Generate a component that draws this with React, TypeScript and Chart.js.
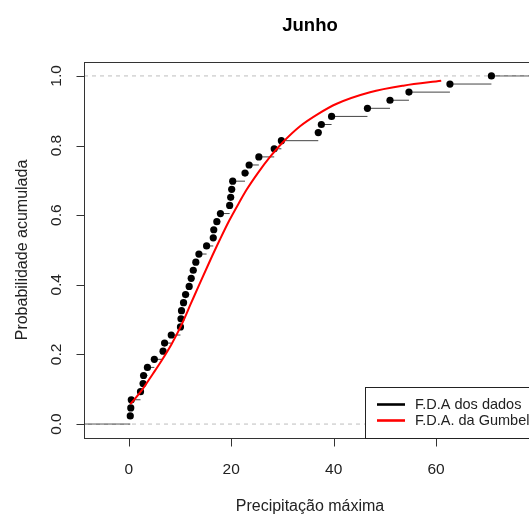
import { useEffect, useRef } from "react";
import { Chart, registerables } from "chart.js";

Chart.register(...registerables);

// Empirical CDF of the data (x = precipitation, y = cumulative probability)
const ecdfX = [
  0.3, 0.4, 0.5, 2.3, 2.8, 2.9, 3.65, 5.0, 6.7, 7.0,
  8.3, 10.1, 10.2, 10.3, 10.7, 11.1, 11.8, 12.2, 12.6, 13.1,
  13.7, 15.2, 16.5, 16.6, 17.2, 17.9, 19.7, 19.9, 20.1, 20.3,
  22.7, 23.5, 25.4, 28.4, 29.8, 37.0, 37.6, 39.6, 46.6, 51.0,
  54.7, 62.7, 70.8,
];
const ecdfY = [
  0.0233, 0.0465, 0.0698, 0.093, 0.1163, 0.1395, 0.1628, 0.186, 0.2093, 0.2326,
  0.2558, 0.2791, 0.3023, 0.3256, 0.3488, 0.3721, 0.3953, 0.4186, 0.4419, 0.4651,
  0.4884, 0.5116, 0.5349, 0.5581, 0.5814, 0.6047, 0.6279, 0.6512, 0.6744, 0.6977,
  0.7209, 0.7442, 0.7674, 0.7907, 0.814, 0.8372, 0.8605, 0.8837, 0.907, 0.9302,
  0.9535, 0.9767, 1.0,
];

// Fitted Gumbel CDF
const gumbelX = [0.3, 2.5, 4.7, 6.4, 8.3, 10.3, 12.1, 13.9, 15.8, 17.8, 19.6, 21.7, 23.0, 25.2, 27.5, 30.0, 33.5, 37.0, 40.6, 47.1, 53.6, 61.0];
const gumbelF = [0.057, 0.096, 0.144, 0.182, 0.228, 0.285, 0.345, 0.405, 0.467, 0.53, 0.584, 0.64, 0.673, 0.721, 0.766, 0.808, 0.856, 0.891, 0.92, 0.953, 0.972, 0.986];

const xTicks = [0, 20, 40, 60];
const xTickLabels = ["0", "20", "40", "60"];
const yTicks = [0, 0.2, 0.4, 0.6, 0.8, 1.0];
const yTickLabels = ["0.0", "0.2", "0.4", "0.6", "0.8", "1.0"];
const refLevels = [0, 1];
const xLimits = [-8.73, 79.5];
const yLimits = [-0.04, 1.04];

const titleText = "Junho";
const xTitle = "Precipitação máxima";
const yTitle = "Probabilidade acumulada";
const legendLabels = ["F.D.A dos dados", "F.D.A. da Gumbel"];
const legendColors = ["#000000", "#ff0000"];

const FONT = "'Liberation Sans', Arial, sans-serif";

const rPlugin = {
  id: "rstyle",
  afterDatasetsDraw(chart: any) {
    const { ctx, chartArea: a, scales } = chart;
    const xs = scales.x;
    const ys = scales.y;
    ctx.save();
    // box
    ctx.strokeStyle = "#333";
    ctx.lineWidth = 1;
    const L = Math.round(a.left) + 0.5;
    const T = Math.round(a.top) + 0.5;
    const R = Math.round(a.right) + 0.5;
    const B = Math.round(a.bottom) + 0.5;
    ctx.strokeRect(L, T, R - L, B - T);
    // ticks
    ctx.beginPath();
    xTicks.forEach((v) => {
      const px = Math.round(xs.getPixelForValue(v)) + 0.5;
      ctx.moveTo(px, B);
      ctx.lineTo(px, B + 8);
    });
    yTicks.forEach((v) => {
      const py = Math.round(ys.getPixelForValue(v)) + 0.5;
      ctx.moveTo(L, py);
      ctx.lineTo(L - 8, py);
    });
    ctx.stroke();

    // legend
    const lw = 171;
    const lh = 51;
    const lx = a.right - lw;
    const ly = a.bottom - lh;
    ctx.fillStyle = "#ffffff";
    ctx.fillRect(lx, ly, lw, lh);
    ctx.strokeStyle = "#222";
    ctx.lineWidth = 1;
    ctx.strokeRect(Math.round(lx) + 0.5, Math.round(ly) + 0.5, lw, lh);
    ctx.font = `14.5px ${FONT}`;
    ctx.textBaseline = "middle";
    ctx.textAlign = "left";
    legendLabels.forEach((lab, i) => {
      const ry = ly + 17.5 + i * 16;
      ctx.strokeStyle = legendColors[i];
      ctx.lineWidth = 2.6;
      ctx.beginPath();
      ctx.moveTo(lx + 12, ry);
      ctx.lineTo(lx + 40, ry);
      ctx.stroke();
      ctx.fillStyle = "#222";
      ctx.fillText(lab, lx + 50, ry + 0.5);
    });
    ctx.restore();
  },
  afterDraw(chart: any) {
    const { ctx, chartArea: a, scales } = chart;
    const xs = scales.x;
    const ys = scales.y;
    ctx.save();
    ctx.fillStyle = "#222";
    ctx.font = `15.5px ${FONT}`;
    ctx.textAlign = "center";
    ctx.textBaseline = "alphabetic";
    xTicks.forEach((v, i) => {
      ctx.fillText(xTickLabels[i], xs.getPixelForValue(v), a.bottom + 36);
    });
    yTicks.forEach((v, i) => {
      ctx.save();
      ctx.translate(a.left - 23.5, ys.getPixelForValue(v));
      ctx.rotate(-Math.PI / 2);
      ctx.fillText(yTickLabels[i], 0, 0);
      ctx.restore();
    });
    ctx.font = `16px ${FONT}`;
    ctx.fillText(xTitle, (a.left + a.right) / 2, a.bottom + 72.5);
    ctx.save();
    ctx.translate(27.3, (a.top + a.bottom) / 2);
    ctx.rotate(-Math.PI / 2);
    ctx.fillText(yTitle, 0, 0);
    ctx.restore();
    ctx.fillStyle = "#000";
    ctx.font = `bold 18.5px ${FONT}`;
    ctx.fillText(titleText, (a.left + a.right) / 2, 30.5);
    ctx.restore();
  },
};

export default function App() {
  const ref = useRef<HTMLCanvasElement>(null);
  useEffect(() => {
    const canvas = ref.current;
    if (!canvas) return;
    const n = ecdfX.length;
    const stepData: any[] = [];
    for (let i = 0; i < n - 1; i++) {
      stepData.push({ x: ecdfX[i], y: ecdfY[i] });
      stepData.push({ x: ecdfX[i + 1], y: ecdfY[i] });
      stepData.push({ x: ecdfX[i + 1], y: null });
    }
    const edgeData = [
      { x: xLimits[0], y: refLevels[0] },
      { x: ecdfX[0], y: refLevels[0] },
      { x: ecdfX[0], y: null },
      { x: ecdfX[n - 1], y: refLevels[1] },
      { x: xLimits[1], y: refLevels[1] },
    ];
    const refData = [
      { x: xLimits[0], y: refLevels[0] },
      { x: xLimits[1], y: refLevels[0] },
      { x: xLimits[1], y: null },
      { x: xLimits[0], y: refLevels[1] },
      { x: xLimits[1], y: refLevels[1] },
    ];
    const chart = new Chart(canvas, {
      type: "scatter",
      data: {
        datasets: [
          {
            label: legendLabels[1],
            data: gumbelX.map((x, i) => ({ x, y: gumbelF[i] })),
            showLine: true,
            borderColor: "#ff0000",
            borderWidth: 2,
            pointRadius: 0,
            cubicInterpolationMode: "monotone",
            order: 0,
          } as any,
          {
            label: "points",
            data: ecdfX.map((x, i) => ({ x, y: ecdfY[i] })),
            showLine: false,
            pointRadius: 3.6,
            pointBackgroundColor: "#000",
            pointBorderColor: "#000",
            pointBorderWidth: 0,
            order: 1,
          },
          {
            label: "ref",
            data: refData,
            showLine: true,
            borderColor: "#bdbdbd",
            borderWidth: 1,
            borderDash: [4, 4],
            pointRadius: 0,
            spanGaps: false,
            order: 2,
          },
          {
            label: legendLabels[0],
            data: stepData,
            showLine: true,
            borderColor: "#444",
            borderWidth: 1,
            pointRadius: 0,
            spanGaps: false,
            order: 3,
          },
          {
            label: "edges",
            data: edgeData,
            showLine: true,
            borderColor: "#333",
            borderWidth: 1,
            pointRadius: 0,
            spanGaps: false,
            order: 4,
          },
        ],
      },
      options: {
        animation: false,
        responsive: false,
        devicePixelRatio: 1,
        layout: { padding: { left: 84, top: 62, right: 24, bottom: 78 } },
        plugins: { legend: { display: false }, tooltip: { enabled: false }, title: { display: false } },
        events: [],
        scales: {
          x: { type: "linear", min: xLimits[0], max: xLimits[1], display: false },
          y: { type: "linear", min: yLimits[0], max: yLimits[1], display: false },
        },
      },
      plugins: [rPlugin],
    });
    return () => chart.destroy();
  }, []);

  return (
    <div style={{ position: "absolute", left: 0, top: 0, width: 529, height: 516, overflow: "hidden", background: "#fff" }}>
      <canvas ref={ref} width={560} height={516} style={{ width: 560, height: 516, display: "block" }} />
    </div>
  );
}
